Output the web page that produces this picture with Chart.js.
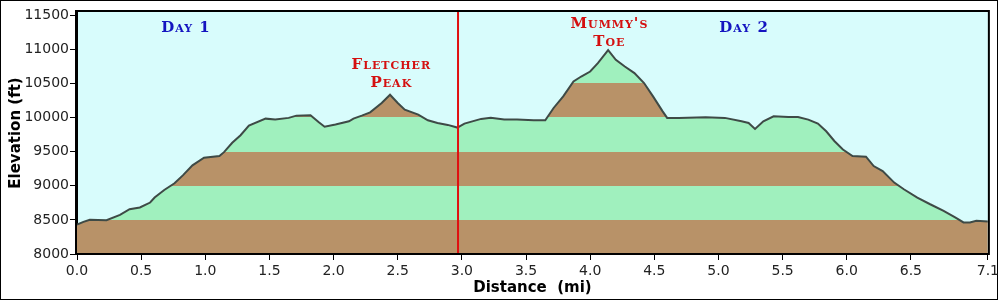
<!DOCTYPE html>
<html>
<head>
<meta charset="utf-8">
<script src="https://cdn.jsdelivr.net/npm/chart.js@4.4.1/dist/chart.umd.min.js"></script>
<style>
  html, body { margin: 0; padding: 0; background: #fff; }
  #wrap { width: 1002px; height: 302px; position: relative; }
</style>
</head>
<body>
<div id="wrap"><canvas id="profile"></canvas></div>
<script>
// trail profile: distance (mi) and elevation (ft)
const DIST = [
  0.00, 0.05, 0.10, 0.23, 0.335, 0.41, 0.49, 0.57, 0.605, 0.68,
  0.76, 0.825, 0.90, 0.99, 1.11, 1.146, 1.21, 1.275, 1.34, 1.47,
  1.545, 1.65, 1.71, 1.82, 1.885, 1.93, 2.015, 2.12, 2.155, 2.22,
  2.285, 2.375, 2.44, 2.50, 2.555, 2.66, 2.735, 2.81, 2.89, 2.965,
  3.02, 3.15, 3.225, 3.33, 3.43, 3.56, 3.65, 3.715, 3.79, 3.87,
  3.93, 4.00, 4.06, 4.14, 4.20, 4.27, 4.345, 4.42, 4.49, 4.565,
  4.60, 4.69, 4.90, 5.05, 5.18, 5.235, 5.285, 5.35, 5.43, 5.545,
  5.62, 5.70, 5.775, 5.84, 5.905, 5.97, 6.045, 6.15, 6.21, 6.28,
  6.37, 6.445, 6.55, 6.65, 6.755, 6.845, 6.91, 6.96, 7.01, 7.10
];
const ELEV = [
  8430, 8470, 8500, 8495, 8573, 8656, 8681, 8754, 8827, 8938,
  9036, 9152, 9298, 9410, 9434, 9492, 9629, 9740, 9881, 9983,
  9969, 9994, 10027, 10032, 9930, 9865, 9896, 9944, 9983, 10027,
  10075, 10212, 10333, 10212, 10115, 10042, 9958, 9920, 9891, 9852,
  9910, 9979, 9994, 9969, 9969, 9958, 9958, 10139, 10309, 10527,
  10600, 10673, 10795, 10985, 10844, 10746, 10650, 10504, 10309, 10090,
  9994, 9994, 10003, 9994, 9944, 9920, 9833, 9944, 10017, 10008,
  10008, 9969, 9910, 9798, 9652, 9531, 9434, 9425, 9288, 9215,
  9046, 8948, 8827, 8729, 8632, 8535, 8462, 8462, 8486, 8476
];

const X_TICKS = [0, 0.5, 1, 1.5, 2, 2.5, 3, 3.5, 4, 4.5, 5, 5.5, 6, 6.5, 7.1];
const Y_TICKS = [8000, 8500, 9000, 9500, 10000, 10500, 11000, 11500];
const BAND_EDGES = [8000, 8500, 9000, 9500, 10000, 10500, 11000, 11500];
const DAY_SPLIT = 2.97;

// text labels anchored in data units
const LABELS = [
  { text: ["Day 1"], x: 0.85, y: 11310, color: "#1414c0" },
  { text: ["Day 2"], x: 5.2, y: 11310, color: "#1414c0" },
  { text: ["Fletcher", "Peak"], x: 2.45, y: 10770, color: "#d41010" },
  { text: ["Mummy's", "Toe"], x: 4.15, y: 11370, color: "#d41010" },
];

const SKY = "#d8fcfc";
const BROWN = "#b89268";
const GREEN = "#a0f0be";
const LINE = "#3e4a46";

function bandFill(context) {
  const chart = context.chart;
  const { ctx, chartArea, scales } = chart;
  if (!chartArea) return null;
  const y = scales.y;
  const y0 = y.getPixelForValue(BAND_EDGES[0]);
  const y1 = y.getPixelForValue(BAND_EDGES[BAND_EDGES.length - 1]);
  const grad = ctx.createLinearGradient(0, y0, 0, y1);
  const n = BAND_EDGES.length - 1;
  for (let i = 0; i < n; i++) {
    const c = i % 2 === 0 ? BROWN : GREEN;
    grad.addColorStop(i / n, c);
    grad.addColorStop((i + 1) / n - 0.0001, c);
  }
  grad.addColorStop(1, BROWN);
  return grad;
}

const framePlugin = {
  id: "frame",
  beforeDraw(chart) {
    const { ctx, chartArea: a } = chart;
    ctx.save();
    ctx.fillStyle = "#fff";
    ctx.fillRect(0, 0, chart.width, chart.height);
    ctx.strokeStyle = "#000";
    ctx.lineWidth = 1;
    ctx.strokeRect(0.5, 0.5, 997, 299);
    ctx.fillStyle = SKY;
    ctx.fillRect(a.left, a.top, a.right - a.left, a.bottom - a.top);
    ctx.restore();
  },
  afterDraw(chart) {
    const { ctx, chartArea: a, scales } = chart;
    ctx.save();
    ctx.strokeStyle = "#000";
    ctx.lineWidth = 2;
    ctx.strokeRect(a.left - 1, a.top - 1, a.right - a.left + 2, a.bottom - a.top + 1);

    ctx.font = "small-caps bold 15px 'DejaVu Serif'";
    ctx.letterSpacing = "1px";
    ctx.textAlign = "center";
    ctx.textBaseline = "middle";
    LABELS.forEach((l) => {
      const px = scales.x.getPixelForValue(l.x);
      const py = scales.y.getPixelForValue(l.y);
      ctx.fillStyle = l.color;
      l.text.forEach((t, i) => ctx.fillText(t, px, py + i * 18));
    });
    ctx.restore();
  },
};

const points = DIST.map((d, i) => ({ x: d, y: ELEV[i] }));

new Chart(document.getElementById("profile"), {
  type: "line",
  data: {
    datasets: [
      {
        data: [{ x: DAY_SPLIT, y: 8000 }, { x: DAY_SPLIT, y: 11545 }],
        borderColor: "#e01010",
        borderWidth: 2,
        pointRadius: 0,
        fill: false,
        order: 0,
      },
      {
        data: points,
        borderColor: LINE,
        borderWidth: 2,
        backgroundColor: bandFill,
        fill: "origin",
        pointRadius: 0,
        tension: 0,
        order: 1,
      },
    ],
  },
  options: {
    responsive: true,
    maintainAspectRatio: false,
    animation: false,
    events: [],
    layout: { padding: { top: 12, right: 6, left: 0, bottom: 0 } },
    plugins: { legend: { display: false }, tooltip: { enabled: false } },
    scales: {
      x: {
        type: "linear",
        min: 0,
        max: 7.1,
        afterBuildTicks: (s) => { s.ticks = X_TICKS.map((v) => ({ value: v })); },
        afterFit: (s) => { s.height = 48; },
        border: { color: "#000", width: 2 },
        grid: { drawOnChartArea: false, drawTicks: true, tickLength: 6, color: "#000" },
        ticks: {
          color: "#222",
          padding: 3,
          maxRotation: 0,
          font: { family: "DejaVu Sans", size: 14 },
          callback: (v) => Number(v).toFixed(1),
        },
        title: {
          display: true,
          text: "Distance  (mi)",
          color: "#000",
          padding: { top: 0, bottom: 5 },
          font: { family: "DejaVu Sans", size: 15, weight: "bold" },
        },
      },
      y: {
        min: 8000,
        max: 11545,
        afterBuildTicks: (s) => { s.ticks = Y_TICKS.map((v) => ({ value: v })); },
        afterFit: (s) => { s.width = 77; },
        border: { color: "#000", width: 2 },
        grid: { drawOnChartArea: false, drawTicks: true, tickLength: 7, color: "#000" },
        ticks: {
          color: "#222",
          padding: 1,
          font: { family: "DejaVu Sans", size: 14 },
          callback: (v) => String(v),
        },
        title: {
          display: true,
          text: "Elevation (ft)",
          color: "#000",
          padding: { top: 7, bottom: 0 },
          font: { family: "DejaVu Sans", size: 15, weight: "bold" },
        },
      },
    },
  },
  plugins: [framePlugin],
});
</script>
</body>
</html>
